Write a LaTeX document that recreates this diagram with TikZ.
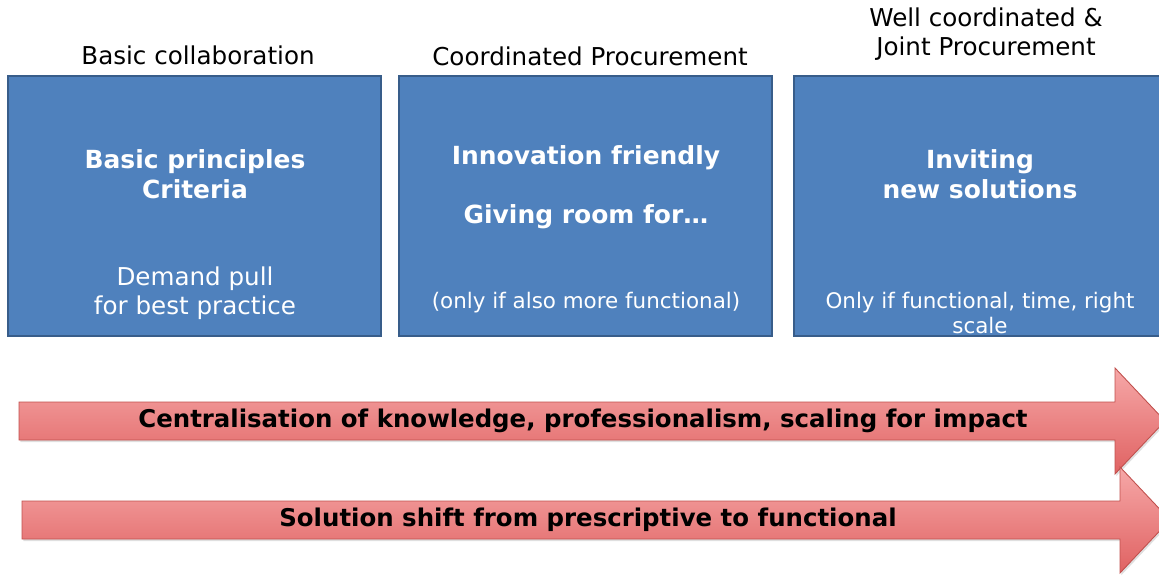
\documentclass[tikz,border=0pt]{standalone}
\usepackage{fontspec}
\setmainfont{DejaVu Sans}
\usetikzlibrary{shadows}

\definecolor{boxblue}{HTML}{4F81BD}
\definecolor{boxedge}{HTML}{385D8A}
\definecolor{arrowtop}{HTML}{F6A8A8}
\definecolor{arrowbot}{HTML}{E06262}
\definecolor{arrowedge}{HTML}{C0504D}

\begin{document}
\begin{tikzpicture}[x=0.02cm, y=-0.02cm,
  font=\fontsize{14}{16.4}\selectfont,
  box/.style={draw=boxedge, line width=1.6pt, fill=boxblue, inner sep=0pt,
    minimum width=7.46cm, minimum height=5.2cm},
  head/.style={text=white, align=center,
    font=\fontsize{14.2}{17}\selectfont\bfseries},
  sub/.style={text=white, align=center},
  small/.style={text=white, align=center,
    font=\fontsize{12.2}{14.7}\selectfont},
  bigarrow/.style={draw=arrowedge, line width=0.5pt, top color=arrowtop,
    bottom color=arrowbot,
    drop shadow={opacity=0.25, shadow xshift=0.8pt, shadow yshift=-1.2pt}},
  arrowtext/.style={font=\fontsize{13.9}{16}\selectfont\bfseries}]
  \useasboundingbox (0,0) rectangle (1159,575);
  \clip (0,0) rectangle (1159,575);

  % column titles
  \node (t1) at (198,55) {Basic collaboration};
  \node (t2) at (590,56) {Coordinated Procurement};
  \node[align=center] (t3) at (986,34) {Well coordinated \&\\Joint Procurement};

  \foreach \x/\name in {194.5/b1, 585.5/b2, 980.5/b3}
    \node[box] (\name) at (\x,206) {};

  \node[head] (b1h) at (195,174) {Basic principles\\Criteria};
  \node[sub] (b1s) at (195,293) {Demand pull\\for best practice};

  \node[head] (b2h) at (586,158) {Innovation friendly};
  \node[head] (b2g) at (586,217) {Giving room for…};
  \node[small] (b2s) at (586,303) {(only if also more functional)};

  \node[head] (b3h) at (980,174) {Inviting\\new solutions};
  \node[small] (b3s) at (980,313) {Only if functional, time, right\\scale};

  % the two block arrows
  \foreach \name/\yc/\xs/\xb in {cen/421/19/1115, sol/520/22/1120}
    \draw[bigarrow] (\xs,\yc-19) -- (\xb,\yc-19) -- (\xb,\yc-53)
      -- (\xb+50,\yc) -- (\xb,\yc+53) -- (\xb,\yc+19) -- (\xs,\yc+19) -- cycle;

  \node[arrowtext] (cent) at (583,421)
    {Centralisation of knowledge, professionalism, scaling for impact};
  \node[arrowtext] (solt) at (588,520)
    {Solution shift from prescriptive to functional};
\end{tikzpicture}
\end{document}
